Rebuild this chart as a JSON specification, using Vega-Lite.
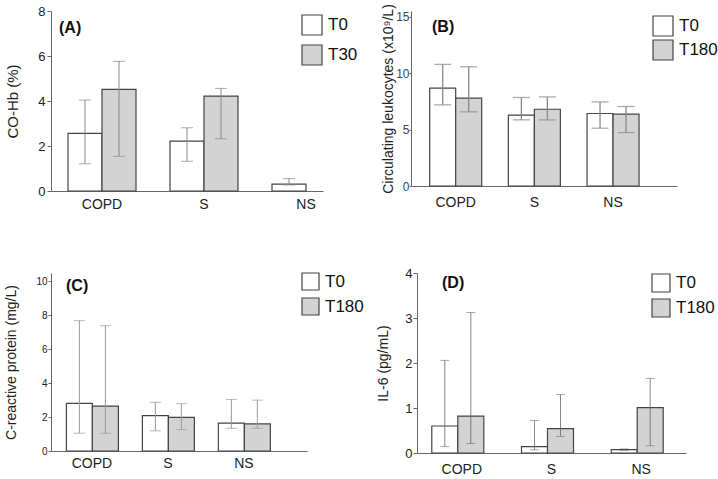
{
  "$schema": "https://vega.github.io/schema/vega-lite/v6.json",
  "padding": {"left": 4, "top": 3, "right": 0, "bottom": 0},
  "autosize": {"type": "pad"},
  "spacing": 56,
  "config": {
    "font": "Liberation Sans",
    "view": {"stroke": null},
    "axis": {"domainColor": "#666", "tickColor": "#666", "labelColor": "#222", "titleColor": "#222", "titleFontWeight": "normal", "grid": false, "labelFont": "Liberation Sans", "titleFont": "Liberation Sans"},
    "legend": {"padding": 0, "title": null, "labelFontSize": 17, "labelOffset": 5, "symbolType": "square", "symbolStrokeColor": "#444", "symbolStrokeWidth": 1.2, "labelColor": "#111", "orient": "none"},
    "title": {"font": "Liberation Sans", "fontWeight": "bold", "fontSize": 16, "color": "#111", "anchor": "start", "frame": "group"}
  },
  "resolve": {"scale": {"fill": "independent"}, "legend": {"fill": "independent"}},
  "datasets": {
    "A": [
      {"bar": "COPD T0", "group": "COPD", "time": "T0", "mean": 2.56, "lo": 1.21, "hi": 4.04},
      {"bar": "COPD T30", "group": "COPD", "time": "T30", "mean": 4.52, "lo": 1.54, "hi": 5.76},
      {"bar": "S T0", "group": "S", "time": "T0", "mean": 2.22, "lo": 1.32, "hi": 2.81},
      {"bar": "S T30", "group": "S", "time": "T30", "mean": 4.22, "lo": 2.32, "hi": 4.56},
      {"bar": "NS T0", "group": "NS", "time": "T0", "mean": 0.31, "lo": 0.27, "hi": 0.55}
    ],
    "B": [
      {"group": "COPD", "time": "T0", "mean": 8.67, "lo": 7.19, "hi": 10.77},
      {"group": "COPD", "time": "T180", "mean": 7.78, "lo": 6.57, "hi": 10.56},
      {"group": "S", "time": "T0", "mean": 6.27, "lo": 5.86, "hi": 7.84},
      {"group": "S", "time": "T180", "mean": 6.80, "lo": 5.86, "hi": 7.90},
      {"group": "NS", "time": "T0", "mean": 6.42, "lo": 5.12, "hi": 7.45},
      {"group": "NS", "time": "T180", "mean": 6.36, "lo": 4.73, "hi": 7.04}
    ],
    "C": [
      {"group": "COPD", "time": "T0", "mean": 2.81, "lo": 1.05, "hi": 7.69},
      {"group": "COPD", "time": "T180", "mean": 2.65, "lo": 1.05, "hi": 7.39},
      {"group": "S", "time": "T0", "mean": 2.09, "lo": 1.19, "hi": 2.87},
      {"group": "S", "time": "T180", "mean": 1.98, "lo": 1.26, "hi": 2.79},
      {"group": "NS", "time": "T0", "mean": 1.64, "lo": 1.34, "hi": 3.04},
      {"group": "NS", "time": "T180", "mean": 1.60, "lo": 1.34, "hi": 3.00}
    ],
    "D": [
      {"group": "COPD", "time": "T0", "mean": 0.60, "lo": 0.14, "hi": 2.06},
      {"group": "COPD", "time": "T180", "mean": 0.82, "lo": 0.21, "hi": 3.12},
      {"group": "S", "time": "T0", "mean": 0.14, "lo": 0.07, "hi": 0.72},
      {"group": "S", "time": "T180", "mean": 0.54, "lo": 0.37, "hi": 1.30},
      {"group": "NS", "time": "T0", "mean": 0.075, "lo": 0.06, "hi": 0.09},
      {"group": "NS", "time": "T180", "mean": 1.01, "lo": 0.16, "hi": 1.66}
    ]
  },
  "vconcat": [
    {
      "bounds": "flush",
      "spacing": 88,
      "resolve": {"scale": {"fill": "independent"}, "legend": {"fill": "independent"}},
      "hconcat": [
        {
          "width": 272,
          "height": 180,
          "data": {"name": "A"},
          "title": {"text": "(A)", "offset": -31, "dx": 8},
          "encoding": {
            "x": {"field": "bar", "type": "nominal",
              "scale": {"domain": ["COPD T0", "COPD T30", "gap1", "S T0", "S T30", "gap2", "NS T0"], "paddingInner": 0, "paddingOuter": 0.5},
              "axis": {"title": null, "values": ["COPD T0", "S T0", "NS T0"], "labelExpr": "split(datum.value, ' ')[0]", "labelOffset": 17, "ticks": false, "tickSize": 0, "labelPadding": 6, "labelAngle": 0, "labelFontSize": 14, "labelOverlap": false}}
          },
          "layer": [
            {
              "mark": {"type": "bar", "stroke": "#444", "strokeWidth": 1.2},
              "encoding": {
                "y": {"field": "mean", "type": "quantitative", "title": "CO-Hb (%)", "scale": {"domain": [0, 8], "nice": false},
                  "axis": {"values": [0, 2, 4, 6, 8], "tickSize": 4, "labelPadding": 2, "labelFontSize": 13, "labelOverlap": false, "titleFontSize": 15, "titlePadding": 17}},
                "fill": {"field": "time", "type": "nominal", "scale": {"domain": ["T0", "T30"], "range": ["#ffffff", "#d3d3d3"]},
                  "legend": {"legendX": 250, "legendY": 3, "symbolSize": 400, "rowPadding": 4}}
              }
            },
            {
              "mark": {"type": "rule", "color": "#888", "strokeWidth": 1},
              "encoding": {"y": {"field": "lo", "type": "quantitative", "title": "CO-Hb (%)"}, "y2": {"field": "hi"}}
            },
            {
              "mark": {"type": "tick", "color": "#888", "size": 12, "thickness": 1},
              "encoding": {"y": {"field": "lo", "type": "quantitative", "title": "CO-Hb (%)"}}
            },
            {
              "mark": {"type": "tick", "color": "#888", "size": 12, "thickness": 1},
              "encoding": {"y": {"field": "hi", "type": "quantitative", "title": "CO-Hb (%)"}}
            }
          ]
        },
        {
          "width": 266,
          "height": 175,
          "data": {"name": "B"},
          "title": {"text": "(B)", "offset": -31, "dx": 21},
          "encoding": {
            "x": {"field": "group", "type": "nominal", "sort": ["COPD", "S", "NS"],
              "scale": {"paddingInner": 0.339, "paddingOuter": 0.36, "align": 0.33},
              "axis": {"title": null, "ticks": false, "tickSize": 0, "labelPadding": 9, "labelAngle": 0, "labelFontSize": 14}},
            "xOffset": {"field": "time", "type": "nominal", "sort": ["T0", "T180"], "scale": {"paddingInner": 0, "paddingOuter": 0}}
          },
          "layer": [
            {
              "mark": {"type": "bar", "stroke": "#444", "strokeWidth": 1.2},
              "encoding": {
                "y": {"field": "mean", "type": "quantitative", "title": "Circulating leukocytes (x10⁹/L)", "scale": {"domain": [0, 15.5], "nice": false},
                  "axis": {"values": [0, 5, 10, 15], "tickSize": 2, "labelPadding": 0, "labelFontSize": 12, "labelOverlap": false, "labelColor": "#444", "titleFontSize": 14, "titlePadding": 0}},
                "fill": {"field": "time", "type": "nominal", "scale": {"domain": ["T0", "T180"], "range": ["#ffffff", "#d3d3d3"]},
                  "legend": {"legendX": 241, "legendY": 4, "symbolSize": 400, "rowPadding": -2}}
              }
            },
            {
              "mark": {"type": "rule", "color": "#888", "strokeWidth": 1.3},
              "encoding": {"y": {"field": "lo", "type": "quantitative", "title": "Circulating leukocytes (x10⁹/L)"}, "y2": {"field": "hi"}}
            },
            {
              "mark": {"type": "tick", "color": "#888", "size": 17, "thickness": 1.3},
              "encoding": {"y": {"field": "lo", "type": "quantitative", "title": "Circulating leukocytes (x10⁹/L)"}}
            },
            {
              "mark": {"type": "tick", "color": "#888", "size": 17, "thickness": 1.3},
              "encoding": {"y": {"field": "hi", "type": "quantitative", "title": "Circulating leukocytes (x10⁹/L)"}}
            }
          ]
        }
      ]
    },
    {
      "bounds": "flush",
      "spacing": 110,
      "resolve": {"scale": {"fill": "independent"}, "legend": {"fill": "independent"}},
      "hconcat": [
        {
          "width": 256,
          "height": 178,
          "data": {"name": "C"},
          "title": {"text": "(C)", "offset": -22, "dx": 15},
          "encoding": {
            "x": {"field": "group", "type": "nominal", "sort": ["COPD", "S", "NS"],
              "scale": {"paddingInner": 0.329, "paddingOuter": 0.349, "align": 0.29},
              "axis": {"title": null, "ticks": false, "tickSize": 0, "labelPadding": 5, "labelAngle": 0, "labelFontSize": 14}},
            "xOffset": {"field": "time", "type": "nominal", "sort": ["T0", "T180"], "scale": {"paddingInner": 0, "paddingOuter": 0}},
            "y": {"field": "mean", "type": "quantitative", "title": "C-reactive protein (mg/L)", "scale": {"domain": [0, 10.5], "nice": false},
              "axis": {"values": [0, 2, 4, 6, 8, 10], "tickSize": 3, "labelPadding": 1, "labelFontSize": 10, "labelOverlap": false, "labelSeparation": 0, "labelBound": false, "titleFontSize": 14, "titlePadding": 17}}
          },
          "layer": [
            {
              "mark": {"type": "bar", "stroke": "#444", "strokeWidth": 1.2},
              "encoding": {
                "fill": {"field": "time", "type": "nominal", "scale": {"domain": ["T0", "T180"], "range": ["#ffffff", "#d3d3d3"]},
                  "legend": {"legendX": 250, "legendY": -1, "symbolSize": 289, "rowPadding": 2}}
              }
            },
            {
              "mark": {"type": "rule", "color": "#999", "strokeWidth": 1},
              "encoding": {"y": {"field": "lo", "type": "quantitative", "title": "C-reactive protein (mg/L)"}, "y2": {"field": "hi"}}
            },
            {
              "mark": {"type": "tick", "color": "#999", "size": 11, "thickness": 1},
              "encoding": {"y": {"field": "lo", "type": "quantitative", "title": "C-reactive protein (mg/L)"}}
            },
            {
              "mark": {"type": "tick", "color": "#999", "size": 11, "thickness": 1},
              "encoding": {"y": {"field": "hi", "type": "quantitative", "title": "C-reactive protein (mg/L)"}}
            }
          ]
        },
        {
          "width": 269,
          "height": 180,
          "data": {"name": "D"},
          "title": {"text": "(D)", "offset": -24, "dx": 25},
          "encoding": {
            "x": {"field": "group", "type": "nominal", "sort": ["COPD", "S", "NS"],
              "scale": {"paddingInner": 0.331, "paddingOuter": 0.165, "align": 0.5},
              "axis": {"title": null, "ticks": false, "tickSize": 0, "labelPadding": 9, "labelAngle": 0, "labelFontSize": 14}},
            "xOffset": {"field": "time", "type": "nominal", "sort": ["T0", "T180"], "scale": {"paddingInner": 0, "paddingOuter": 0}}
          },
          "layer": [
            {
              "mark": {"type": "bar", "stroke": "#444", "strokeWidth": 1.2},
              "encoding": {
                "y": {"field": "mean", "type": "quantitative", "title": "IL-6 (pg/mL)", "scale": {"domain": [0, 4], "nice": false},
                  "axis": {"values": [0, 1, 2, 3, 4], "tickSize": 4, "labelPadding": 1, "labelFontSize": 13, "labelOverlap": false, "titleFontSize": 14, "titlePadding": 14}},
                "fill": {"field": "time", "type": "nominal", "scale": {"domain": ["T0", "T180"], "range": ["#ffffff", "#d3d3d3"]},
                  "legend": {"legendX": 234, "legendY": 0, "symbolSize": 324, "rowPadding": 1}}
              }
            },
            {
              "mark": {"type": "rule", "color": "#666", "strokeWidth": 0.8},
              "encoding": {"y": {"field": "lo", "type": "quantitative", "title": "IL-6 (pg/mL)"}, "y2": {"field": "hi"}}
            },
            {
              "mark": {"type": "tick", "color": "#666", "size": 9, "thickness": 0.8},
              "encoding": {"y": {"field": "lo", "type": "quantitative", "title": "IL-6 (pg/mL)"}}
            },
            {
              "mark": {"type": "tick", "color": "#666", "size": 9, "thickness": 0.8},
              "encoding": {"y": {"field": "hi", "type": "quantitative", "title": "IL-6 (pg/mL)"}}
            }
          ]
        }
      ]
    }
  ]
}
